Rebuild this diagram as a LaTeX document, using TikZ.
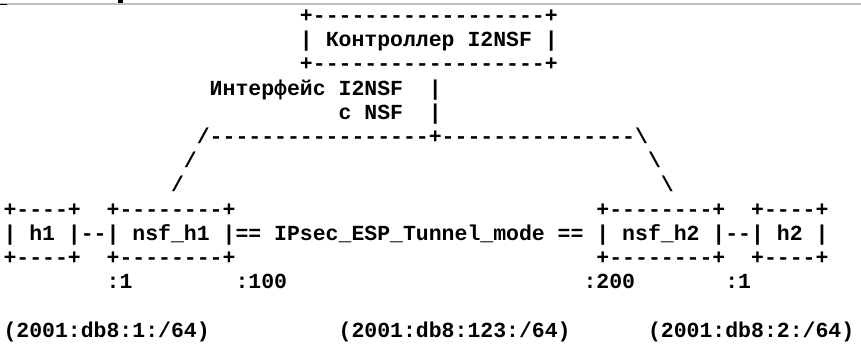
\documentclass[tikz,border=0pt]{standalone}
\usepackage{fontspec}
\setmonofont{Liberation Mono}
\tikzset{
  txt/.style={anchor=base west, inner sep=0pt, outer sep=0pt,
    font=\ttfamily\bfseries\fontsize{21.48pt}{24pt}\selectfont},
  rule/.style={draw=black!25, line width=1.4pt}
}
% column / line placement of a monospaced text cell
\newcommand\cellat[4]{\node[txt] (#1) at ({3.5+12.89*#2},{22.5+24.2*#3}) {#4};}
\begin{document}
\begin{tikzpicture}[x=1pt,y=-1pt]
\useasboundingbox (0,0) rectangle (861,346);
% page-edge remnants at the top
\coordinate (rl) at (0,3.8);
\coordinate (rr) at (861,3.8);
\draw[rule] (rl) -- (rr);
\fill[black] (0,4.2) rectangle (7,5.4);
\fill[black] (118,0) rectangle (122.5,2.6);
% controller box
\cellat{ctrltop}{23}{0}{+------------------+}
\cellat{ctrl}{23}{1}{| Контроллер I2NSF |}
\cellat{ctrlbot}{23}{2}{+------------------+}
% interface label
\cellat{ifa}{16}{3}{Интерфейс I2NSF}
\cellat{ifabar}{33}{3}{|}
\cellat{ifb}{26}{4}{с NSF}
\cellat{ifbbar}{33}{4}{|}
% tree
\cellat{tree}{15}{5}{/-----------------+---------------\textbackslash}
\cellat{l1}{14}{6}{/}
\cellat{r1}{50}{6}{\textbackslash}
\cellat{l2}{13}{7}{/}
\cellat{r2}{51}{7}{\textbackslash}
% boxes top borders
\cellat{hatop}{0}{8}{+----+}
\cellat{natop}{8}{8}{+--------+}
\cellat{nbtop}{46}{8}{+--------+}
\cellat{hbtop}{58}{8}{+----+}
% box contents
\cellat{ha}{0}{9}{| h1 |}
\cellat{la}{6}{9}{--}
\cellat{na}{8}{9}{| nsf\_h1 |}
\cellat{tun}{18}{9}{== IPsec\_ESP\_Tunnel\_mode ==}
\cellat{nb}{46}{9}{| nsf\_h2 |}
\cellat{lb}{56}{9}{--}
\cellat{hb}{58}{9}{| h2 |}
% bottom borders
\cellat{habot}{0}{10}{+----+}
\cellat{nabot}{8}{10}{+--------+}
\cellat{nbbot}{46}{10}{+--------+}
\cellat{hbbot}{58}{10}{+----+}
% addresses
\cellat{a1}{8}{11}{:1}
\cellat{a100}{18}{11}{:100}
\cellat{a200}{45}{11}{:200}
\cellat{a2}{56}{11}{:1}
\cellat{p1}{0}{13}{(2001:db8:1:/64)}
\cellat{p123}{26}{13}{(2001:db8:123:/64)}
\cellat{p2}{50}{13}{(2001:db8:2:/64)}
\end{tikzpicture}
\end{document}
